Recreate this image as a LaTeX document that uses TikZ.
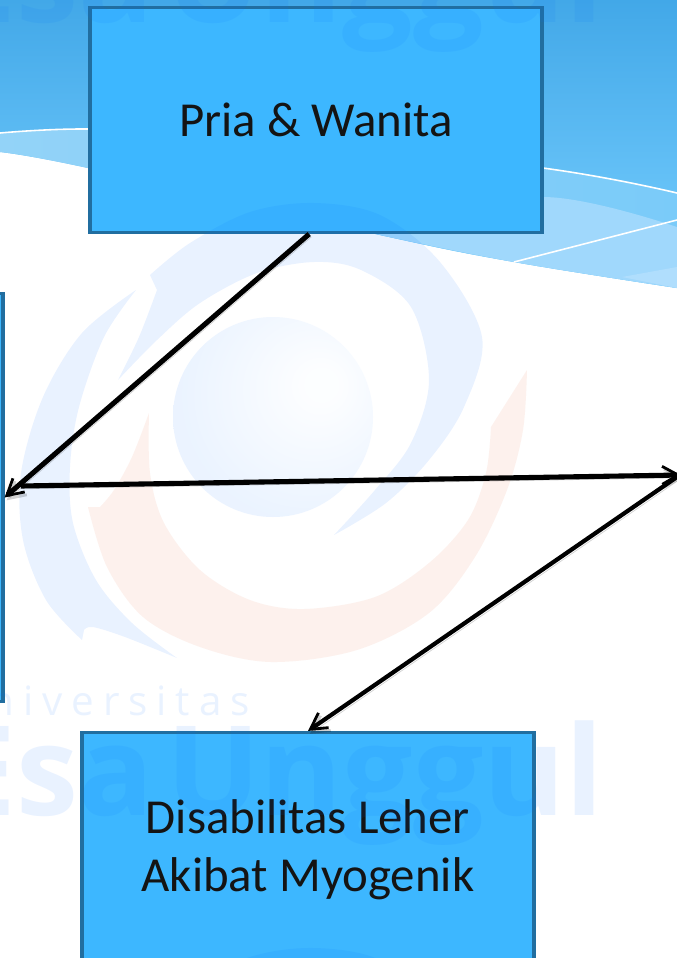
\documentclass[tikz,border=0pt]{standalone}
\usepackage{fontspec}
\setmainfont{Carlito}
\newfontfamily\wmfont[LetterSpace=22]{Open Sans}
\newfontfamily\wmbold{Open Sans}
\usepackage{xcolor}
\usetikzlibrary{arrows.meta,calc}
\definecolor{skytop}{RGB}{66,168,232}
\definecolor{skylow}{RGB}{120,207,255}
\definecolor{bandl}{RGB}{147,211,248}
\definecolor{bandr}{RGB}{122,203,249}
\definecolor{bandpale}{RGB}{160,216,252}
\definecolor{bandedge}{RGB}{176,222,253}
\definecolor{boxblue}{RGB}{61,183,255}
\definecolor{boxline}{RGB}{33,110,160}
\definecolor{wmblue}{RGB}{0,110,255}
\definecolor{wmred}{RGB}{230,80,30}
\pgfdeclareradialshading{logoball}{\pgfpoint{0.45cm}{0.3cm}}{color(0cm)=(wmblue!1); color(0.15cm)=(wmblue!1); color(1.1cm)=(wmblue!8); color(3cm)=(wmblue!8)}
\tikzset{
  box/.style={draw=boxline, line width=1.8pt, fill=boxblue, align=center, minimum width=9.04cm, minimum height=4.5cm, inner sep=0pt, font=\fontsize{27.8}{33}\selectfont, text=black!92},
  arr/.style={line width=2.9pt, black, preaction={draw=black, opacity=.18, transform canvas={shift={(1.2pt,-1.6pt)}}}},
  tip/.style={-{Straight Barb[length=3.2mm, width=3.6mm, line width=1.6pt]}},
  wave/.style={white, line width=.9pt},
  wmb/.style={fill=wmblue, opacity=.085},
  wmr/.style={fill=wmred, opacity=.08},
  wmtext/.style={wmblue, opacity=.085, inner sep=0pt},
}
\begin{document}
\begin{tikzpicture}[x=0.02cm, y=-0.02cm]
  \clip (0,0) rectangle (677,958);
  \fill[white] (0,0) rectangle (677,958);
  % header waves
  \shade[top color=skytop, bottom color=skylow] (0,0) -- (677,0) -- (677,288)
    -- plot[smooth, tension=.6] coordinates {(677,288) (514,262) (380,235) (88,168) (0,152)} -- cycle;
  \shade[left color=bandl, right color=bandr] (0,133)
    -- plot[smooth, tension=.6] coordinates {(0,133) (88,129) (250,135) (543,168) (677,193)} -- (677,288)
    -- plot[smooth, tension=.6] coordinates {(677,288) (514,262) (380,235) (88,168) (0,152)} -- cycle;
  \fill[bandpale] (340,224) -- plot[smooth, tension=.5] coordinates {(340,224) (544,197) (677,227)} -- (677,288)
    -- plot[smooth, tension=.6] coordinates {(677,288) (514,262) (380,235)} -- cycle;
  \fill[bandedge] (622,277) -- (677,267) -- (677,288) -- cycle;
  \draw[wave] plot[smooth, tension=.6] coordinates {(0,133) (88,129) (250,135) (543,168) (677,193)};
  \draw[wave] (514,262) -- (677,220);
  % boxes
  \node[box] (pria) at (316,120) {Pria \& Wanita};
  \node[box, minimum height=4.7cm] (disabilitas) at (308,850) {Disabilitas Leher\\Akibat Myogenik};
  \node[box, minimum width=4cm, minimum height=8.16cm] (left) at (-97,497.5) {};
  % watermark
  \foreach \dy in {0,745}{
    \begin{scope}[yshift=-\dy*0.02cm]
      \fill[wmb] (150,275) -- plot[smooth, tension=.55] coordinates {(150,275) (190,243) (250,212) (314,203) (380,215) (440,262) (482,337) (464,407) (429,460) (386,503) (334,535)}
        -- plot[smooth, tension=.55] coordinates {(334,535) (375,490) (411,443) (429,380) (411,307) (361,270) (314,262) (257,273) (200,303) (157,340) (118,380)}
        -- plot[smooth, tension=.55] coordinates {(118,380) (139,337) (157,290)} -- cycle;
      \fill[wmb] (136,290) -- plot[smooth, tension=.55] coordinates {(136,290) (82,333) (43,397) (21,473) (23,540) (46,600) (82,640)}
        -- plot[smooth, tension=.55] coordinates {(84,630) (93,627) (125,637) (177,658)}
        -- plot[smooth, tension=.55] coordinates {(177,658) (132,623) (96,580) (73,523) (70,467) (79,407) (104,337) (136,290)} -- cycle;
      \fill[wmr] (527,370) -- plot[smooth, tension=.55] coordinates {(527,370) (523,430) (507,490) (475,557) (429,613) (357,650) (271,662) (200,647) (143,617) (107,567) (88,507)}
        -- plot[smooth, tension=.55] coordinates {(100,507) (114,490) (132,457) (149,413)}
        -- plot[smooth, tension=.55] coordinates {(149,413) (150,473) (164,523) (200,570) (250,600) (304,609) (375,597) (429,563) (468,520) (486,473) (491,427)} -- cycle;
      \shade[shading=logoball] (273,417) circle (100);
    \end{scope}
  }
  \node[wmtext, anchor=base east, font=\wmbold\bfseries\fontsize{71}{71}\selectfont] (esa) at (604,815) {Esa\hskip.1em Unggul};
  \node[wmtext, anchor=base east, font=\wmbold\bfseries\fontsize{71}{71}\selectfont] (esatop) at (604,22) {Esa\hskip.1em Unggul};
  \node[wmtext, anchor=base east, font=\wmfont\fontsize{23}{23}\selectfont] (univ) at (250,715) {Universitas};
  % connectors
  \coordinate (hubl) at (21,486);
  \coordinate (hubr) at (681,475);
  \coordinate (hubs) at (677,477);
  \draw[arr, tip] ($(pria.south west)!.485!(pria.south east)$) -- (left.east);
  \draw[arr, tip] (hubl) -- (hubr);
  \draw[arr, tip, line width=2.4pt] (hubs) -- (disabilitas.north);
\end{tikzpicture}
\end{document}
